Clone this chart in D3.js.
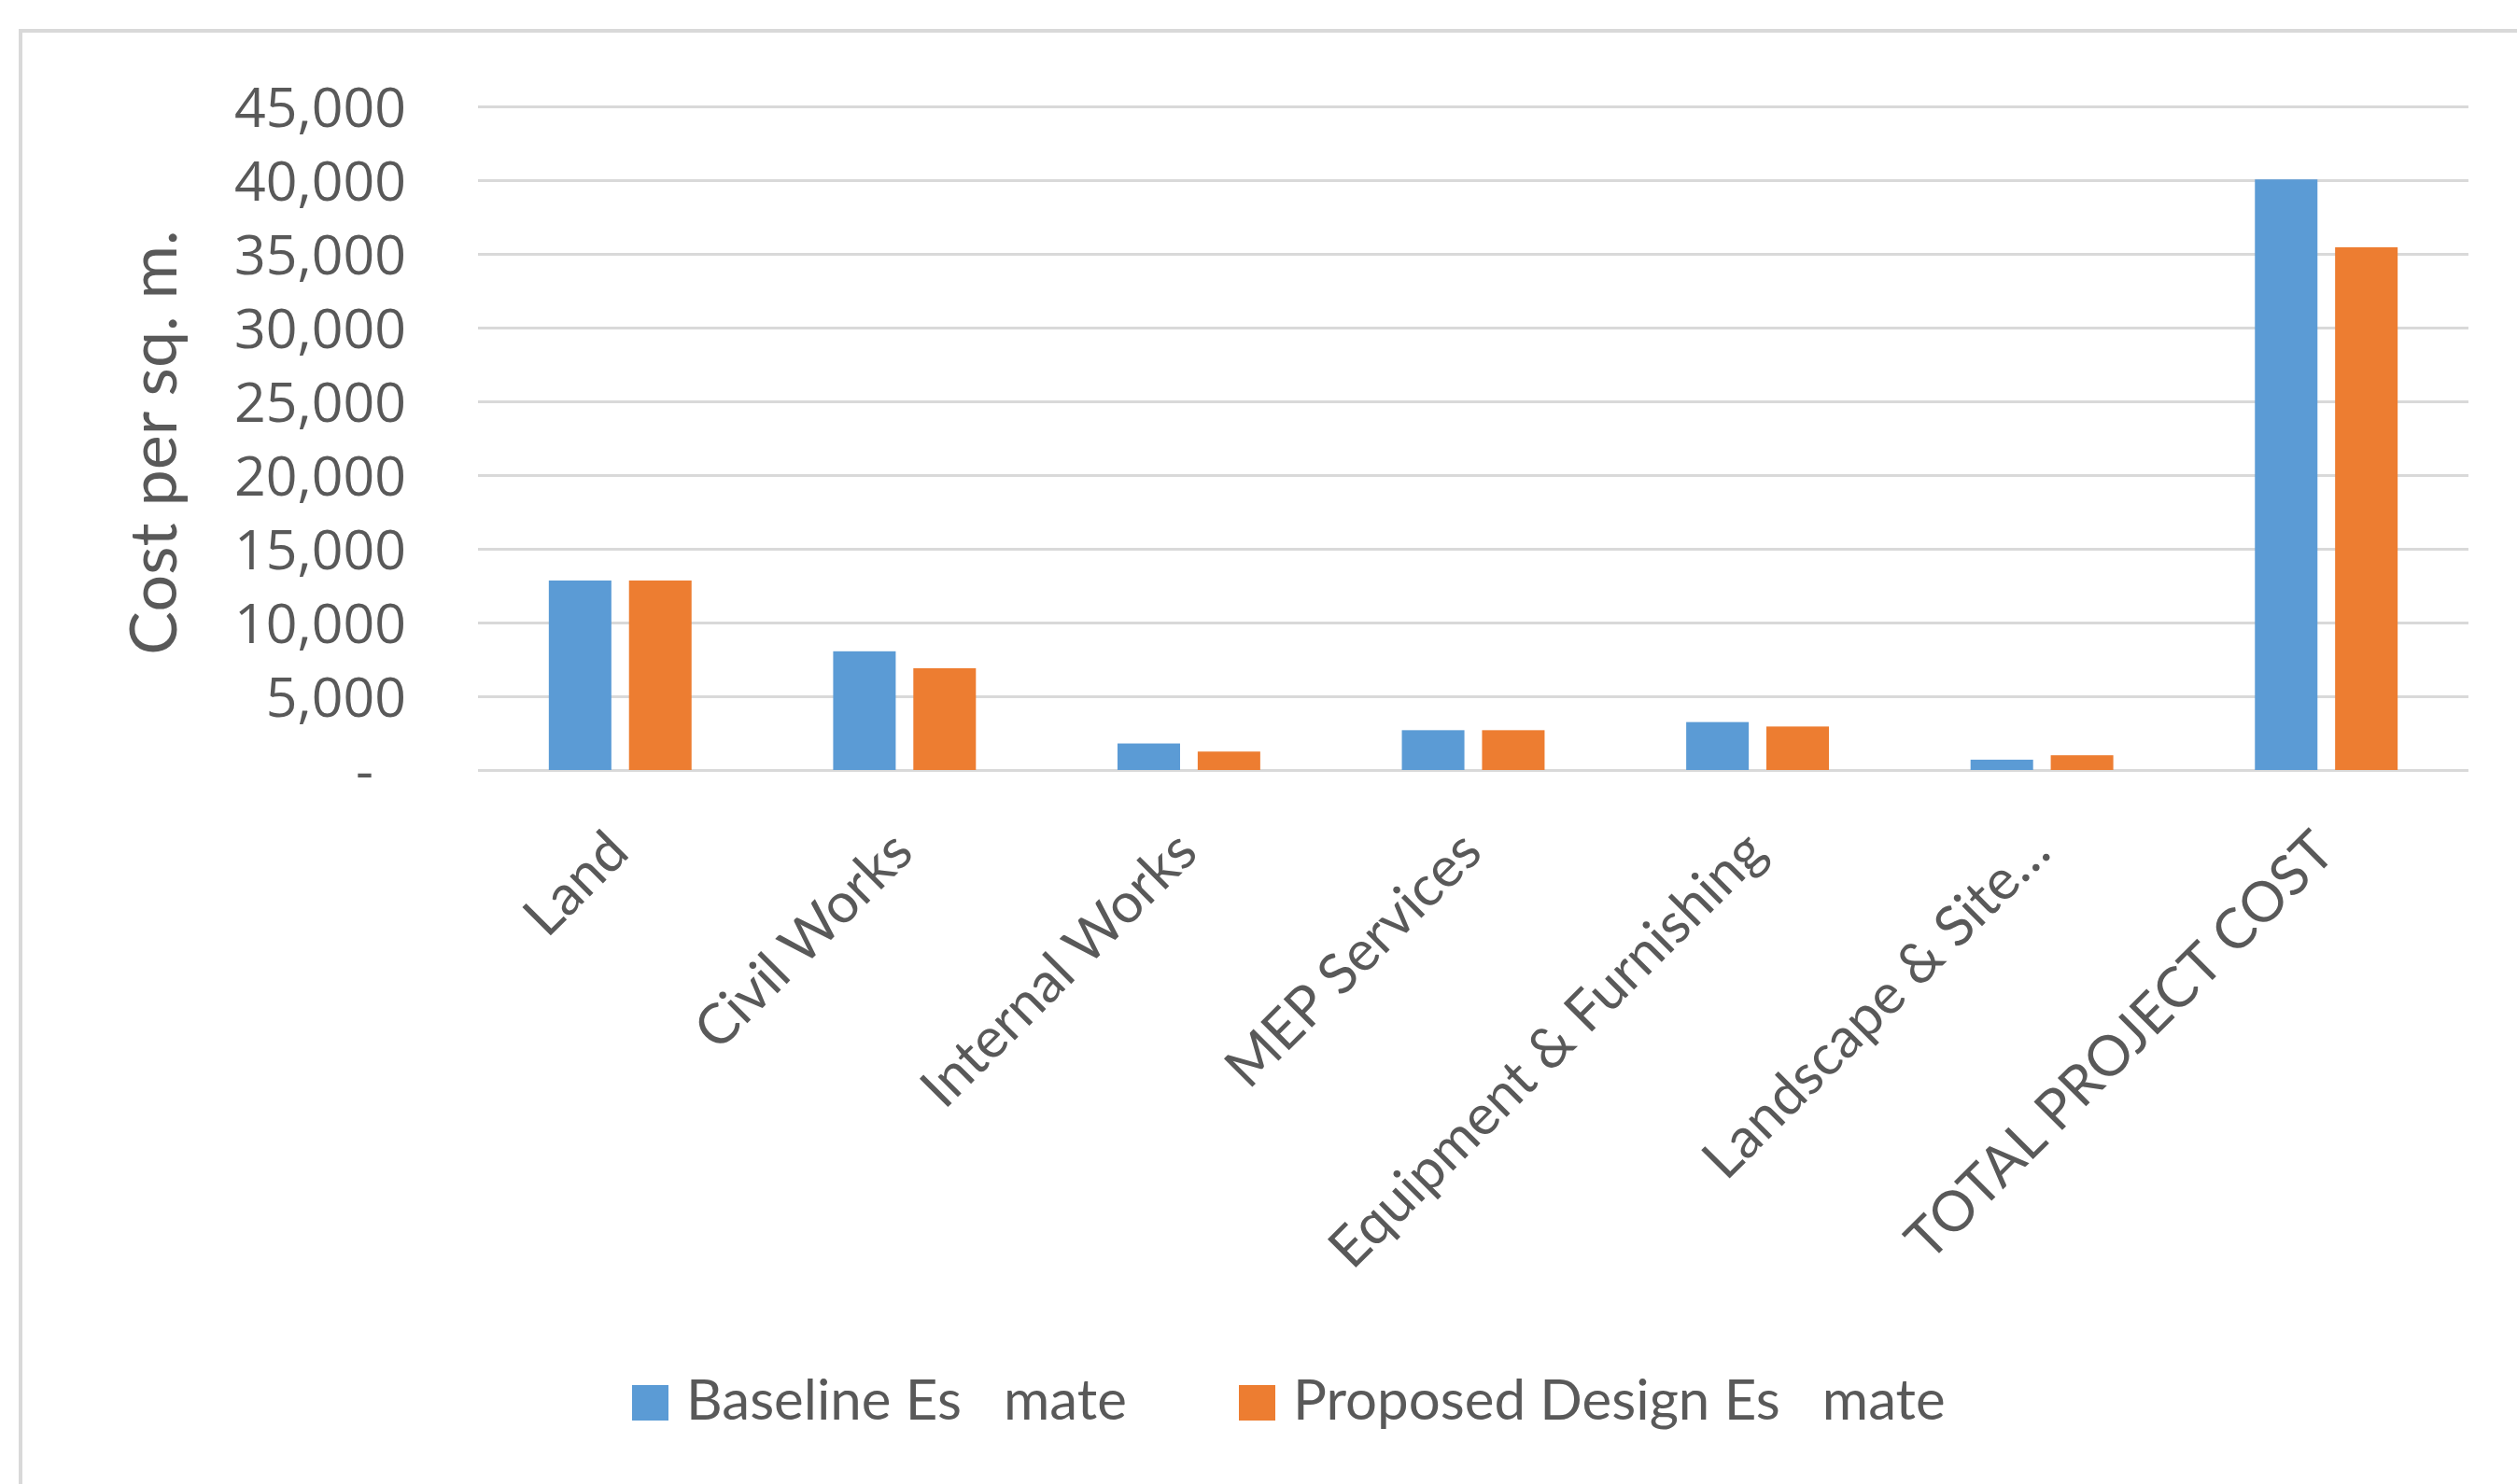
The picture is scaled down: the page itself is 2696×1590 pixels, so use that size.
<!DOCTYPE html>
<html>
<head>
<meta charset="utf-8">
<script src="https://cdn.jsdelivr.net/npm/d3@7"></script>
<style>
  html, body { margin: 0; padding: 0; background: #ffffff; overflow: hidden; }
  svg { display: block; }
  .legend text { white-space: pre; }
</style>
</head>
<body>
<svg id="chart" width="2696" height="1590"></svg>
<script>
// Cost per square metre, baseline vs proposed design, by cost component
const categories = [
  "Land",
  "Civil Works",
  "Internal Works",
  "MEP Services",
  "Equipment & Furnishing",
  "Landscape & Site…",
  "TOTAL PROJECT COST"
];
const seriesNames = ["Baseline Es\u2002\u2005mate", "Proposed Design Es\u2002\u2005mate"];
const baselineValues = [12850, 8050, 1800, 2700, 3250, 700, 40050];
const proposedValues = [12850, 6900, 1250, 2700, 2950, 1000, 35450];
const yTickValues = [0, 5000, 10000, 15000, 20000, 25000, 30000, 35000, 40000, 45000];
const yTickLabels = ["-", "5,000", "10,000", "15,000", "20,000", "25,000", "30,000", "35,000", "40,000", "45,000"];
const yAxisTitle = "Cost per sq. m.";

const seriesColors = ["#5B9BD5", "#ED7D31"];
const textColor = "#595959";
const gridColor = "#D9D9D9";
const labelFont = "Lato, 'Open Sans', sans-serif";
const tickFont = "'Open Sans', 'Noto Sans', sans-serif";

const svg = d3.select("#chart");
const W = 2696, H = 1590;
const plot = { left: 512, right: 2644, top: 114, bottom: 825 };

svg.append("rect").attr("width", W).attr("height", H).attr("fill", "#ffffff");

// chart area frame (runs off the right and bottom edges)
svg.append("rect")
  .attr("x", 22).attr("y", 33)
  .attr("width", W + 40).attr("height", H + 40)
  .attr("fill", "none")
  .attr("stroke", gridColor)
  .attr("stroke-width", 4);

const x = d3.scaleBand().domain(categories).range([plot.left, plot.right]).padding(0);
const y = d3.scaleLinear().domain([0, 45000]).range([plot.bottom, plot.top]);

// value axis with gridlines
const yAxis = d3.axisLeft(y)
  .tickValues(yTickValues)
  .tickSize(-(plot.right - plot.left))
  .tickPadding(77)
  .tickFormat((d, i) => yTickLabels[i]);

const gy = svg.append("g")
  .attr("transform", `translate(${plot.left},0)`)
  .call(yAxis);
gy.select(".domain").remove();
gy.selectAll(".tick line")
  .attr("stroke", gridColor)
  .attr("stroke-width", 3);
gy.selectAll(".tick text")
  .attr("fill", textColor)
  .attr("font-family", tickFont)
  .attr("font-size", 59)
  .attr("dy", "0.36em");
// zero shown as an accounting dash, set in from the right edge
gy.selectAll(".tick text").filter(d => d === 0).attr("dx", -35);

// bars
const bw = x.bandwidth();
const barW = bw * 0.22;
const gap = bw * 0.062;
const series = [baselineValues, proposedValues];

series.forEach((vals, si) => {
  svg.append("g")
    .selectAll("rect")
    .data(categories.map((c, i) => ({ c, v: vals[i] })))
    .join("rect")
    .attr("x", d => x(d.c) + bw / 2 + (si === 0 ? -gap / 2 - barW : gap / 2))
    .attr("y", d => y(d.v))
    .attr("width", barW)
    .attr("height", d => y(0) - y(d.v))
    .attr("fill", seriesColors[si]);
});

// category axis
const xAxis = d3.axisBottom(x).tickSize(0).tickPadding(0);
const gx = svg.append("g")
  .attr("transform", `translate(0,${plot.bottom})`)
  .call(xAxis);
gx.select(".domain").remove();
gx.selectAll(".tick text")
  .attr("fill", textColor)
  .attr("font-family", labelFont)
  .attr("font-size", 60)
  .attr("text-anchor", "end")
  .attr("y", 0)
  .attr("dy", 0)
  .attr("transform", "translate(12,91) rotate(-45)");

// axis title
svg.append("text")
  .attr("transform", "translate(189,474) rotate(-90)")
  .attr("text-anchor", "middle")
  .attr("fill", textColor)
  .attr("font-family", labelFont)
  .attr("font-size", 70)
  .text(yAxisTitle);

// legend
const legendX = [677, 1327];
const legend = svg.append("g").attr("class", "legend");
seriesNames.forEach((name, i) => {
  legend.append("rect")
    .attr("x", legendX[i]).attr("y", 1484)
    .attr("width", 39).attr("height", 38)
    .attr("fill", seriesColors[i]);
  legend.append("text")
    .attr("x", legendX[i] + 58).attr("y", 1521)
    .attr("fill", textColor)
    .attr("font-family", labelFont)
    .attr("font-size", 60)
    .text(name);
});
</script>
</body>
</html>
